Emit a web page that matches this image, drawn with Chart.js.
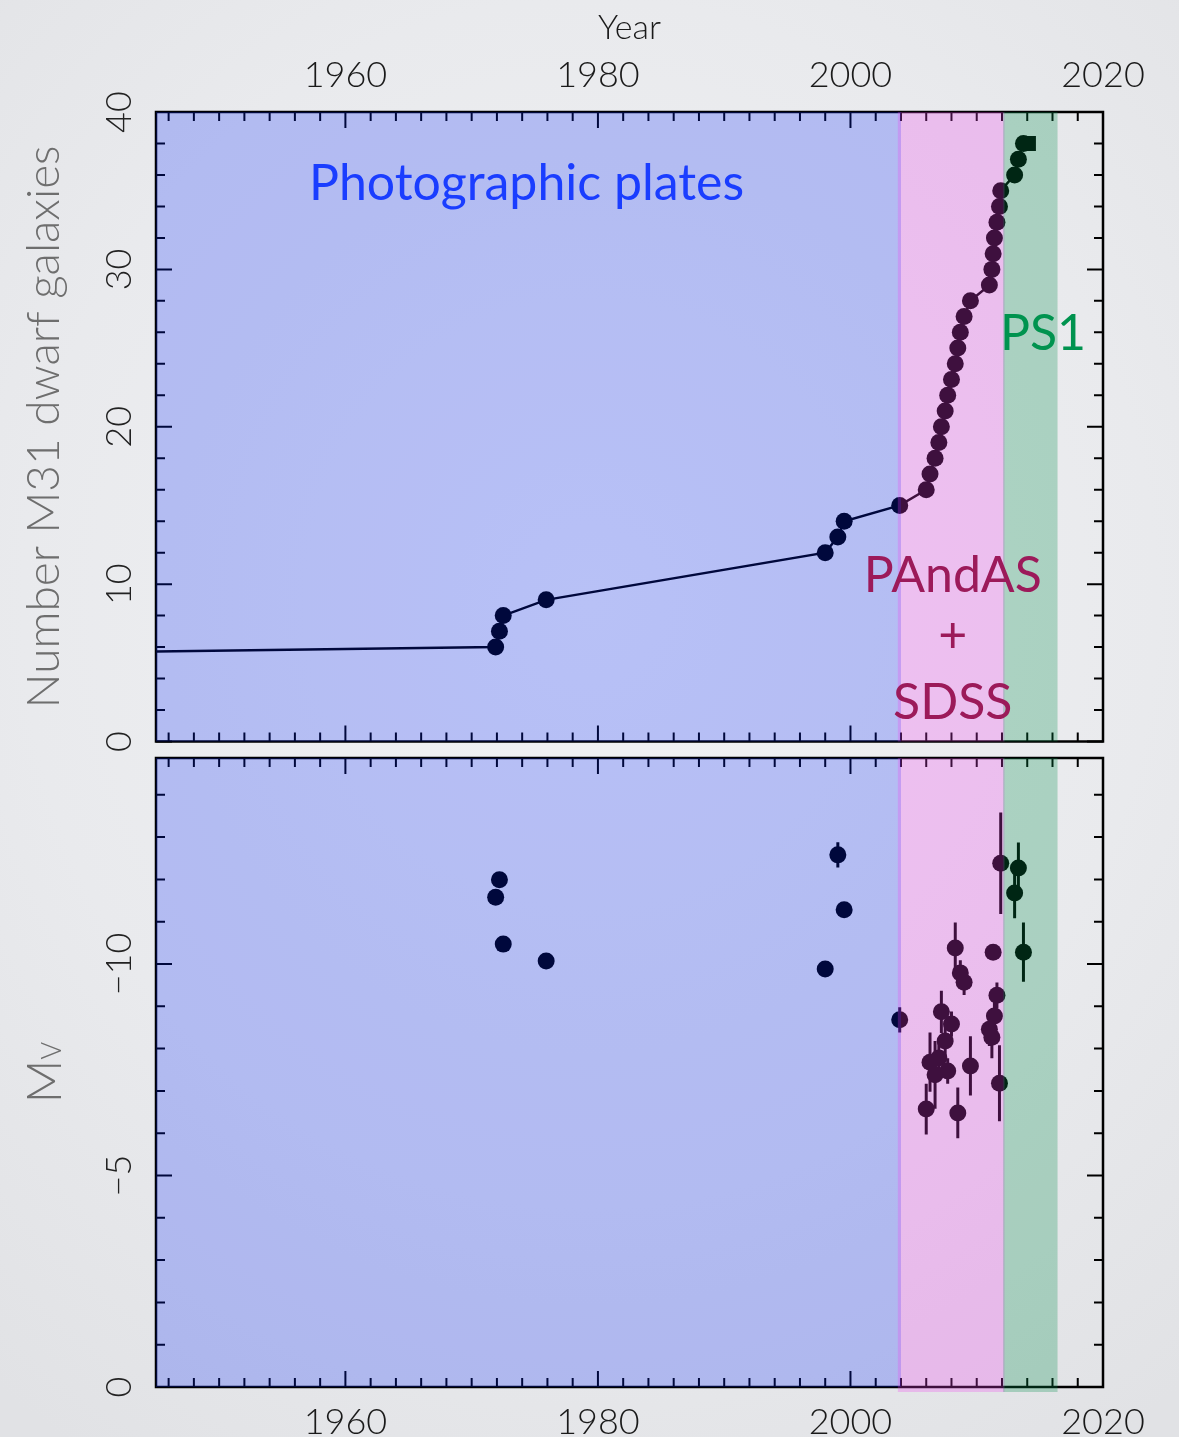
<!DOCTYPE html>
<html>
<head>
<meta charset="utf-8">
<script src="https://cdn.jsdelivr.net/npm/chart.js@4.4.1/dist/chart.umd.min.js"></script>
<style>
  html, body { margin: 0; padding: 0; }
  body {
    width: 1179px; height: 1437px; overflow: hidden; position: relative;
    background: radial-gradient(ellipse 80% 70% at 50% 42%, #f1f2f4 0%, #e9eaed 60%, #e1e2e5 100%);
  }
  #countChart { position: absolute; left: 0; top: 0; }
  #magChart { position: absolute; left: 0; top: 748px; }
</style>
</head>
<body>
<canvas id="countChart" width="1179" height="752"></canvas>
<canvas id="magChart" width="1179" height="689"></canvas>
<script>
// discovery year of each M31 dwarf (first entry only anchors the line before 1945)
const years = [1878, 1971.9, 1972.2, 1972.5, 1975.9, 1998.0, 1999.0, 1999.5, 2003.9,
  2006.0, 2006.3, 2006.7, 2007.0, 2007.2, 2007.5, 2007.7, 2008.0, 2008.3, 2008.5,
  2008.7, 2009.0, 2009.5, 2011.0, 2011.2, 2011.3, 2011.4, 2011.6, 2011.8, 2011.9,
  2013.0, 2013.3, 2013.7];
const counts = [5, 6, 7, 8, 9, 12, 13, 14, 15,
  16, 17, 18, 19, 20, 21, 22, 23, 24, 25,
  26, 27, 28, 29, 30, 31, 32, 33, 34, 35,
  36, 37, 38];
const mv = [null, -11.58, -11.99, -10.47, -10.07, -9.88, -12.58, -11.28, -8.68,
  -6.57, -7.68, -7.38, -7.78, -8.87, -8.18, -7.47, -8.58, -10.38, -6.48,
  -9.79, -9.57, -7.59, -8.46, -8.27, -10.28, -8.77, -9.26, -7.18, -12.38,
  -11.68, -12.27, -10.28];
const mvErr = [0, 0, 0, 0, 0, 0, 0.3, 0.12, 0.3,
  0.6, 0.7, 0.8, 0.4, 0.5, 0.4, 0.3, 0.3, 0.6, 0.6,
  0.3, 0.3, 0.7, 0.4, 0.5, 0.15, 0.5, 0.3, 0.9, 1.2,
  0.6, 0.6, 0.7];
const latestYear = 2014.1;
const latestCount = 38;

// survey eras
const regionStart = [1945, 2003.75, 2012.1];
const regionEnd = [2004.0, 2012.2, 2016.4];
const regionFill = ['rgba(0,36,255,0.235)', 'rgba(240,60,240,0.26)', 'rgba(0,142,75,0.27)'];

const yearTicks = [1960, 1980, 2000, 2020];
const countTicks = [0, 10, 20, 30, 40];
const magTicks = [0, -5, -10];

const FONT = 'Lato, "Open Sans", sans-serif';
Chart.defaults.font.family = FONT;

function drawFrame(chart, yStep, yMajor) {
  const { ctx, chartArea: a, scales: { x, y } } = chart;
  ctx.save();
  ctx.strokeStyle = '#000';
  ctx.lineWidth = 2;
  ctx.beginPath();
  for (let v = 1946; v <= 2020; v += 2) {
    const px = x.getPixelForValue(v);
    const len = v % 20 === 0 ? 16 : 9;
    ctx.moveTo(px, a.top); ctx.lineTo(px, a.top + len);
    ctx.moveTo(px, a.bottom); ctx.lineTo(px, a.bottom - len);
  }
  for (let v = Math.ceil(y.min / yStep) * yStep; v <= y.max; v += yStep) {
    const py = y.getPixelForValue(v);
    const len = Math.abs(v % yMajor) < 1e-6 ? 16 : 9;
    ctx.moveTo(a.left, py); ctx.lineTo(a.left + len, py);
    ctx.moveTo(a.right, py); ctx.lineTo(a.right - len, py);
  }
  ctx.stroke();
  ctx.lineWidth = 2.5;
  ctx.strokeRect(a.left, a.top, a.right - a.left, a.bottom - a.top);
  ctx.restore();
}

function drawRegions(chart, below) {
  const { ctx, chartArea: a, scales: { x } } = chart;
  ctx.save();
  regionStart.forEach((s, i) => {
    const l = x.getPixelForValue(s);
    const r = x.getPixelForValue(regionEnd[i]);
    ctx.fillStyle = regionFill[i];
    ctx.fillRect(l, a.top, r - l, a.bottom - a.top + (i > 0 ? below : 0));
  });
  ctx.restore();
}

function drawYLabels(chart, ticks) {
  const { ctx, scales: { y } } = chart;
  ctx.save();
  ctx.fillStyle = '#222';
  ctx.font = '300 36px ' + FONT;
  ctx.textAlign = 'center';
  ctx.textBaseline = 'alphabetic';
  ticks.forEach(v => {
    ctx.save();
    ctx.translate(131, y.getPixelForValue(v));
    ctx.rotate(-Math.PI / 2);
    ctx.fillText(v < 0 ? '\u2212' + Math.abs(v) : String(v), 0, 0);
    ctx.restore();
  });
  ctx.restore();
}

function note(chart, text, xv, yv, color) {
  const { ctx, scales: { x, y } } = chart;
  ctx.save();
  ctx.fillStyle = color;
  ctx.font = '400 50px ' + FONT;
  ctx.textAlign = 'center';
  ctx.textBaseline = 'alphabetic';
  ctx.fillText(text, x.getPixelForValue(xv), y.getPixelForValue(yv));
  ctx.restore();
}

const countPanel = {
  id: 'countPanel',
  beforeDatasetsDraw(chart) { drawFrame(chart, 2, 10); },
  afterDatasetsDraw(chart) {
    drawRegions(chart, 0);
    note(chart, 'Photographic plates', 1974.35, 34.4, '#1a3dff');
    note(chart, 'PAndAS', 2008.1, 9.5, '#9c1a5a');
    note(chart, '+', 2008.1, 5.7, '#9c1a5a');
    note(chart, 'SDSS', 2008.1, 1.4, '#9c1a5a');
    note(chart, 'PS1', 2015.25, 24.9, '#00934f');
  },
  afterDraw(chart) { drawYLabels(chart, countTicks); }
};

const magPanel = {
  id: 'magPanel',
  beforeDatasetsDraw(chart) {
    drawFrame(chart, 1, 5);
    const { ctx, scales: { x, y } } = chart;
    ctx.save();
    ctx.strokeStyle = '#000';
    ctx.lineWidth = 3;
    ctx.beginPath();
    years.forEach((yr, i) => {
      if (mv[i] === null || !mvErr[i]) return;
      const px = x.getPixelForValue(yr);
      ctx.moveTo(px, y.getPixelForValue(mv[i] - mvErr[i]));
      ctx.lineTo(px, y.getPixelForValue(mv[i] + mvErr[i]));
    });
    ctx.stroke();
    ctx.restore();
  },
  afterDatasetsDraw(chart) { drawRegions(chart, 5); },
  afterDraw(chart) {
    drawYLabels(chart, magTicks);
    const { ctx, chartArea: a } = chart;
    ctx.save();
    ctx.translate(61, (a.top + a.bottom) / 2);
    ctx.rotate(-Math.PI / 2);
    ctx.fillStyle = '#6e6e6e';
    ctx.textBaseline = 'alphabetic';
    ctx.textAlign = 'left';
    ctx.font = '300 48px ' + FONT;
    const wM = ctx.measureText('M').width;
    ctx.font = '300 27px ' + FONT;
    const wV = ctx.measureText('V').width;
    const start = -(wM + wV) / 2;
    ctx.font = '300 48px ' + FONT;
    ctx.fillText('M', start, 0);
    ctx.font = '300 27px ' + FONT;
    ctx.fillText('V', start + wM, 0);
    ctx.restore();
  }
};

const xBase = {
  type: 'linear', min: 1945, max: 2020,
  grid: { display: false }, border: { display: false },
  afterBuildTicks: s => { s.ticks = yearTicks.map(v => ({ value: v })); },
  ticks: { font: { size: 36, weight: '300' }, color: '#1a1a1a', callback: v => String(v) }
};

new Chart(document.getElementById('countChart'), {
  type: 'line',
  data: {
    datasets: [{
      data: years.map((x, i) => ({ x, y: counts[i] })),
      borderColor: '#000', borderWidth: 2.5,
      pointRadius: 8.5, pointBackgroundColor: '#000', pointBorderWidth: 0
    }, {
      data: [{ x: latestYear, y: latestCount }],
      showLine: false, pointStyle: 'rect',
      pointRadius: 10.5, pointBackgroundColor: '#000', pointBorderWidth: 0
    }]
  },
  options: {
    responsive: false, animation: false, events: [],
    layout: { padding: { left: 0, right: 76, top: 0, bottom: 10 } },
    plugins: { legend: { display: false }, tooltip: { enabled: false } },
    scales: {
      x: Object.assign({}, xBase, {
        position: 'top',
        ticks: Object.assign({}, xBase.ticks, { padding: 7 }),
        title: { display: true, text: 'Year', color: '#1a1a1a', font: { size: 34, weight: '300' }, padding: { top: 8, bottom: 0 } },
        afterFit: s => { s.height = 112; }
      }),
      y: {
        min: 0, max: 40,
        grid: { display: false }, border: { display: false }, ticks: { display: false },
        title: { display: true, text: 'Number M31 dwarf galaxies', color: '#6e6e6e', font: { size: 46, weight: '300' }, padding: { top: 17, bottom: 0 } },
        afterFit: s => { s.width = 156; }
      }
    }
  },
  plugins: [countPanel]
});

new Chart(document.getElementById('magChart'), {
  type: 'scatter',
  data: {
    datasets: [{
      data: years.map((x, i) => ({ x, y: mv[i] })).filter(p => p.y !== null),
      pointRadius: 8.5, pointBackgroundColor: '#000', pointBorderWidth: 0
    }]
  },
  options: {
    responsive: false, animation: false, events: [],
    layout: { padding: { left: 0, right: 76, top: 10, bottom: 0 } },
    plugins: { legend: { display: false }, tooltip: { enabled: false } },
    scales: {
      x: Object.assign({}, xBase, {
        position: 'bottom',
        ticks: Object.assign({}, xBase.ticks, { padding: 6 }),
        afterFit: s => { s.height = 50; }
      }),
      y: {
        min: -14.87, max: 0, reverse: true,
        grid: { display: false }, border: { display: false }, ticks: { display: false },
        afterFit: s => { s.width = 156; }
      }
    }
  },
  plugins: [magPanel]
});
</script>
</body>
</html>
